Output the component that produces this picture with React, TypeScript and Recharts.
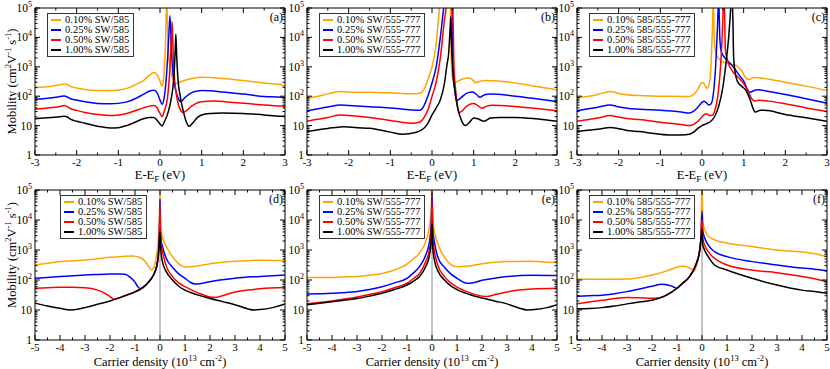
import React from "react";
import { LineChart, Line, XAxis, YAxis, Legend, ReferenceLine } from "recharts";

type Pt = [number, number];

// (a) mobility vs E-EF, SW/585
const aOrange: Pt[] = [[-3,195],[-2.8,205],[-2.6,220],[-2.4,245],[-2.3,262],[-2.25,255],[-2.15,215],[-2.0,190],[-1.8,170],[-1.5,157],[-1.2,155],[-1.0,162],[-0.8,185],[-0.6,240],[-0.4,340],[-0.25,520],[-0.15,640],[-0.08,560],[0.0,330],[0.04,220],[0.07,260],[0.1,700],[0.13,5000],[0.16,200000],[0.19,6000],[0.23,1200],[0.28,500],[0.33,320],[0.38,270],[0.45,290],[0.6,350],[0.8,410],[1.0,440],[1.2,430],[1.5,400],[2.0,340],[2.5,280],[2.8,255],[2.9,250],[2.95,230],[3.0,200]];
const aBlue: Pt[] = [[-3,78],[-2.8,82],[-2.6,88],[-2.4,97],[-2.3,102],[-2.25,98],[-2.15,82],[-2.0,74],[-1.8,65],[-1.5,57],[-1.2,55],[-1.0,57],[-0.8,64],[-0.6,82],[-0.4,115],[-0.25,150],[-0.15,160],[-0.08,140],[0.0,75],[0.05,53],[0.1,90],[0.15,400],[0.19,3000],[0.22,20000],[0.24,55000],[0.27,5000],[0.3,900],[0.35,250],[0.4,120],[0.45,78],[0.48,66],[0.52,68],[0.6,90],[0.75,130],[0.9,150],[1.0,155],[1.2,152],[1.5,140],[2.0,118],[2.5,98],[2.9,92],[3.0,88]];
const aRed: Pt[] = [[-3,36],[-2.8,38],[-2.6,41],[-2.4,45],[-2.3,48],[-2.25,46],[-2.15,38],[-2.0,33],[-1.8,28],[-1.5,24],[-1.2,22],[-1.0,23],[-0.8,26],[-0.6,32],[-0.4,40],[-0.25,46],[-0.15,48],[-0.08,42],[0.0,26],[0.05,20],[0.1,30],[0.18,90],[0.23,600],[0.27,8000],[0.29,35000],[0.31,5000],[0.34,600],[0.38,150],[0.43,60],[0.5,32],[0.55,28],[0.6,30],[0.75,45],[0.9,60],[1.0,65],[1.3,68],[1.6,64],[2.0,58],[2.5,50],[2.9,46],[3.0,45]];
const aBlack: Pt[] = [[-3,17],[-2.8,18],[-2.6,19],[-2.4,20],[-2.3,21],[-2.25,20.5],[-2.15,16.5],[-2.0,14],[-1.8,12],[-1.5,9.5],[-1.2,8.3],[-1.0,8.5],[-0.8,10],[-0.6,13],[-0.4,17],[-0.25,19],[-0.15,19],[-0.05,14],[0.02,10.5],[0.05,9.7],[0.1,13],[0.2,30],[0.28,100],[0.33,400],[0.36,2500],[0.38,13000],[0.4,2500],[0.43,400],[0.48,110],[0.55,35],[0.62,15],[0.7,9.5],[0.78,12],[0.9,19],[1.0,23],[1.2,26],[1.5,27],[2.0,26],[2.5,23],[2.9,21],[3.0,21]];

// (b) mobility vs E-EF, SW/555-777
const bOrange: Pt[] = [[-3,85],[-2.8,95],[-2.5,120],[-2.2,145],[-2.0,140],[-1.5,135],[-1.0,130],[-0.5,120],[-0.3,125],[-0.2,160],[-0.1,360],[0.0,1000],[0.1,6000],[0.18,100000],[0.25,600000],[0.4,600000],[0.44,150000],[0.46,3000],[0.48,600],[0.52,290],[0.55,290],[0.65,340],[0.8,410],[0.9,420],[1.0,330],[1.05,285],[1.12,310],[1.25,340],[1.5,335],[2.0,280],[2.5,215],[3.0,165]];
const bBlue: Pt[] = [[-3,32],[-2.8,36],[-2.5,43],[-2.2,50],[-2.0,48],[-1.5,44],[-1.0,40],[-0.5,34],[-0.3,33],[-0.2,45],[-0.1,100],[0.0,280],[0.1,1000],[0.2,10000],[0.28,100000],[0.35,600000],[0.45,600000],[0.48,100000],[0.5,800],[0.55,150],[0.58,80],[0.6,72],[0.7,90],[0.85,130],[0.98,140],[1.08,110],[1.15,92],[1.25,110],[1.4,118],[2.0,100],[2.5,82],[3.0,66]];
const bRed: Pt[] = [[-3,14],[-2.8,16],[-2.5,19],[-2.2,23],[-2.0,22],[-1.5,19],[-1.0,15],[-0.5,12],[-0.3,13],[-0.2,18],[-0.1,34],[0.0,98],[0.1,300],[0.2,2000],[0.3,40000],[0.34,100000],[0.4,600000],[0.48,600000],[0.5,100000],[0.53,800],[0.57,150],[0.61,50],[0.65,28],[0.7,30],[0.85,48],[1.0,56],[1.1,48],[1.2,39],[1.3,45],[1.45,49],[2.0,45],[2.5,38],[3.0,32]];
const bBlack: Pt[] = [[-3,6.3],[-2.8,7],[-2.5,8],[-2.1,9.2],[-1.8,8.5],[-1.5,8.1],[-1.0,6],[-0.7,5.1],[-0.4,5.8],[-0.2,8],[-0.1,12],[0.0,23],[0.1,40],[0.2,75],[0.3,280],[0.36,1200],[0.4,2900],[0.43,15000],[0.45,50000],[0.47,5000],[0.5,800],[0.55,150],[0.6,50],[0.7,16],[0.8,10],[0.9,13],[1.0,18],[1.1,17],[1.25,14],[1.4,18],[1.6,19],[2.0,19],[2.5,17],[3.0,14]];

// (c) mobility vs E-EF, 585/555-777
const cOrange: Pt[] = [[-3,85],[-2.8,95],[-2.5,115],[-2.2,145],[-2.05,130],[-1.8,112],[-1.5,105],[-1.0,100],[-0.5,98],[-0.3,97],[-0.2,115],[-0.1,170],[-0.02,280],[0.03,290],[0.08,220],[0.13,185],[0.18,300],[0.22,1500],[0.25,20000],[0.27,200000],[0.3,6000],[0.35,2500],[0.45,1600],[0.6,1300],[0.8,1150],[0.95,750],[1.05,420],[1.12,370],[1.25,430],[1.5,400],[2.0,300],[2.5,220],[3.0,155]];
const cBlue: Pt[] = [[-3,32],[-2.8,36],[-2.5,42],[-2.2,50],[-2.05,45],[-1.8,39],[-1.5,36],[-1.0,33],[-0.5,29],[-0.3,27],[-0.2,31],[-0.1,42],[0.0,62],[0.05,67],[0.1,60],[0.17,50],[0.22,55],[0.28,150],[0.33,1200],[0.37,20000],[0.4,200000],[0.43,8000],[0.47,3000],[0.6,1700],[0.75,1000],[0.9,500],[1.0,330],[1.1,160],[1.15,135],[1.22,150],[1.35,165],[1.6,145],[2.0,115],[2.5,82],[3.0,58]];
const cRed: Pt[] = [[-3,14],[-2.8,15.5],[-2.5,18],[-2.2,22],[-2.05,20],[-1.8,17.5],[-1.5,16],[-1.0,13],[-0.5,11],[-0.3,10],[-0.2,11],[-0.1,14],[0.0,20],[0.08,25],[0.12,25],[0.18,22],[0.24,22],[0.3,30],[0.38,100],[0.44,800],[0.48,8000],[0.51,100000],[0.53,300000],[0.56,4000],[0.62,1500],[0.75,650],[0.9,400],[1.0,270],[1.1,150],[1.2,80],[1.27,68],[1.35,73],[1.6,68],[2.0,55],[2.5,40],[3.0,30]];
const cBlack: Pt[] = [[-3,6.3],[-2.8,6.8],[-2.5,7.5],[-2.2,8.6],[-2.05,8.2],[-1.8,6.8],[-1.5,6.3],[-1.2,5.5],[-0.8,4.8],[-0.5,4.8],[-0.3,5.1],[-0.2,6],[-0.1,8],[0.0,10],[0.1,11.5],[0.2,13.5],[0.3,20],[0.4,45],[0.5,200],[0.58,1500],[0.64,10000],[0.68,60000],[0.71,300000],[0.74,50000],[0.76,2000],[0.8,600],[0.85,320],[0.95,220],[1.05,160],[1.15,80],[1.22,40],[1.28,29],[1.4,33],[1.5,33],[2.0,24],[2.5,18.5],[3.0,14]];

// (d) mobility vs carrier density, SW/585
const dOrange: Pt[] = [[-5,316],[-4.5,360],[-4,410],[-3.5,440],[-3,460],[-2.5,510],[-2,570],[-1.5,610],[-1.1,630],[-0.8,560],[-0.6,420],[-0.45,280],[-0.35,215],[-0.25,260],[-0.15,600],[-0.07,2000],[-0.02,15000],[0,80000],[0.02,7000],[0.05,4000],[0.1,2600],[0.2,1600],[0.3,1100],[0.5,600],[0.7,380],[0.85,300],[1.0,270],[1.2,275],[1.5,295],[2.0,350],[2.5,390],[3.0,420],[4.0,455],[5.0,440]];
const dBlue: Pt[] = [[-5,114],[-4.5,122],[-4,130],[-3.5,138],[-3,147],[-2.5,153],[-2,158],[-1.6,160],[-1.4,155],[-1.2,125],[-1.0,85],[-0.9,62],[-0.8,52],[-0.7,55],[-0.5,78],[-0.35,110],[-0.2,190],[-0.1,400],[-0.05,1000],[-0.02,6000],[0,50000],[0.02,4000],[0.05,2000],[0.1,1300],[0.25,530],[0.5,265],[0.75,160],[1.0,114],[1.2,85],[1.4,73],[1.6,75],[2.0,88],[2.5,102],[3.0,115],[4.0,132],[5.0,148]];
const dRed: Pt[] = [[-5,53],[-4.5,55],[-4,57],[-3.5,57],[-3,55],[-2.5,46],[-2.2,36],[-2,28],[-1.85,23],[-1.7,24],[-1.5,28],[-1.0,40],[-0.7,55],[-0.5,78],[-0.35,110],[-0.2,190],[-0.1,400],[-0.05,1000],[-0.02,5000],[0,32000],[0.02,3000],[0.05,1500],[0.1,900],[0.25,290],[0.5,130],[0.75,80],[1.0,60],[1.5,38],[2.0,27],[2.2,26],[2.5,30],[3.0,40],[3.5,46],[4.0,51],[5.0,56]];
const dBlack: Pt[] = [[-5,17],[-4.5,13.5],[-4,11.4],[-3.6,10],[-3.2,11],[-3,12],[-2.5,15.5],[-2,20],[-1.5,28],[-1.0,40],[-0.7,55],[-0.5,78],[-0.35,110],[-0.2,190],[-0.1,400],[-0.05,1000],[-0.02,2500],[0,4000],[0.02,1500],[0.05,700],[0.1,400],[0.25,190],[0.5,100],[0.75,62],[1.0,46],[1.5,32],[2.0,24],[2.5,19],[3.0,15],[3.5,11],[3.75,10],[4.0,10.3],[4.5,12],[5.0,16]];

// (e) mobility vs carrier density, SW/555-777
const eOrange: Pt[] = [[-5,122],[-4,122],[-3,130],[-2.5,145],[-2,165],[-1.5,215],[-1,340],[-0.75,500],[-0.5,780],[-0.25,1900],[-0.1,6000],[-0.03,20000],[0,200000],[0.03,10000],[0.1,4000],[0.25,1460],[0.5,570],[0.75,330],[1.0,275],[1.2,280],[1.5,295],[2.0,350],[2.5,390],[3.0,415],[4.0,420],[4.5,400],[5.0,380]];
const eBlue: Pt[] = [[-5,34],[-4,36],[-3,41],[-2.5,48],[-2,60],[-1.5,80],[-1,114],[-0.75,170],[-0.5,280],[-0.25,680],[-0.1,1900],[-0.03,8000],[0,80000],[0.03,5000],[0.1,1800],[0.25,530],[0.5,265],[0.75,160],[1.0,114],[1.2,90],[1.4,78],[1.6,80],[2.0,98],[2.5,115],[3.0,130],[4.0,145],[5.0,140]];
const eRed: Pt[] = [[-5,16],[-4,20],[-3,27],[-2.5,33],[-2,41],[-1.5,55],[-1,78],[-0.75,110],[-0.5,165],[-0.25,410],[-0.1,1100],[-0.03,4000],[0,45000],[0.03,2500],[0.1,900],[0.25,280],[0.5,130],[0.75,80],[1.0,58],[1.5,38],[2.0,29],[2.2,28],[2.5,32],[3.0,40],[4.0,50],[5.0,53]];
const eBlack: Pt[] = [[-5,15],[-4,19],[-3,24],[-2.5,29],[-2,36],[-1.5,48],[-1,68],[-0.75,90],[-0.5,130],[-0.25,280],[-0.1,680],[-0.03,2000],[0,7500],[0.03,1200],[0.1,450],[0.25,190],[0.5,100],[0.75,64],[1.0,48],[1.5,33],[2.0,25],[2.5,20],[3.0,16],[3.5,11.5],[3.8,10],[4.2,10.5],[4.6,12],[5.0,15]];

// (f) mobility vs carrier density, 585/555-777
const fOrange: Pt[] = [[-5,105],[-4,105],[-3,107],[-2.5,120],[-2,147],[-1.5,190],[-1,265],[-0.8,285],[-0.7,290],[-0.55,265],[-0.4,225],[-0.3,205],[-0.25,250],[-0.15,520],[-0.1,880],[-0.04,2500],[0,150000],[0.03,9000],[0.1,5000],[0.25,2900],[0.5,2200],[1,1700],[2,1300],[3,1000],[4,860],[4.5,750],[5,600]];
const fBlue: Pt[] = [[-5,29],[-4.5,30],[-4,31],[-3.5,35],[-3,41],[-2.5,50],[-2,62],[-1.6,72],[-1.4,70],[-1.2,62],[-1.0,53],[-0.8,75],[-0.5,130],[-0.25,316],[-0.1,880],[-0.04,2500],[0,20000],[0.03,4500],[0.1,2600],[0.25,1460],[0.5,880],[1,600],[2,410],[3,316],[4,250],[4.5,230],[5,205]];
const fRed: Pt[] = [[-5,16],[-4.5,18.5],[-4,21],[-3.5,24],[-3,26],[-2.5,25.5],[-2,24.5],[-1.7,25.5],[-1.5,29],[-1.2,40],[-1.0,53],[-0.8,75],[-0.5,130],[-0.25,316],[-0.1,880],[-0.04,2500],[0,10000],[0.03,2500],[0.1,1500],[0.25,880],[0.5,530],[1,316],[2,215],[3,175],[4,130],[4.5,110],[5,88]];
const fBlack: Pt[] = [[-5,11],[-4.5,11.3],[-4,12],[-3.5,13.5],[-3,16],[-2.5,18.5],[-2,21],[-1.5,29],[-1.2,40],[-1.0,53],[-0.8,75],[-0.5,130],[-0.25,316],[-0.1,880],[-0.04,2500],[0,5000],[0.03,1500],[0.1,1000],[0.25,600],[0.5,316],[1,215],[2,114],[3,68],[4,46],[4.5,41],[5,36]];

const concentrations = ["0.10%", "0.25%", "0.50%", "1.00%"];
const seriesColors = ["#ffa500", "#0000ff", "#ff0000", "#000000"];

const energyTicks = [-3, -2.5, -2, -1.5, -1, -0.5, 0, 0.5, 1, 1.5, 2, 2.5, 3];
const densityTicks = [-5, -4.5, -4, -3.5, -3, -2.5, -2, -1.5, -1, -0.5, 0, 0.5, 1, 1.5, 2, 2.5, 3, 3.5, 4, 4.5, 5];
const mobilityTicks = [
  1, 2, 3, 4, 5, 6, 7, 8, 9,
  10, 20, 30, 40, 50, 60, 70, 80, 90,
  100, 200, 300, 400, 500, 600, 700, 800, 900,
  1000, 2000, 3000, 4000, 5000, 6000, 7000, 8000, 9000,
  10000, 20000, 30000, 40000, 50000, 60000, 70000, 80000, 90000,
  100000,
];

const FONT = '"Liberation Serif", "Times New Roman", Times, serif';
const txt = { fontFamily: FONT };

interface PanelProps {
  left: number;
  top: number;
  height: number;
  topPad: number;
  bottomPad: number;
  curves: Pt[][];
  defect: string;
  letter: string;
  kind: "energy" | "density";
  showYTitle: boolean;
  legendLeft: number;
  yTitleShift: number;
}

const WIDTH = 288;
const PLOT_LEFT = 35;
const PLOT_RIGHT = 285;

function isDecade(v: number) {
  const l = Math.log10(v);
  return Math.abs(l - Math.round(l)) < 1e-9;
}

function Panel(p: PanelProps) {
  const plotTop = p.topPad;
  const plotBottom = p.height - p.bottomPad;
  const xDomain: [number, number] = p.kind === "energy" ? [-3, 3] : [-5, 5];
  const xTicks = p.kind === "energy" ? energyTicks : densityTicks;

  const leftTick = (props: any) => {
    const { y, payload } = props;
    const v = payload.value;
    const major = isDecade(v);
    const e = Math.round(Math.log10(v));
    return (
      <g>
        <line x1={PLOT_LEFT} x2={PLOT_LEFT + (major ? 5 : 2.5)} y1={y} y2={y} stroke="#000" />
        {major && (
          <text x={PLOT_LEFT - 3} y={y + 4} textAnchor="end" fontSize={11.5} style={txt} fill="#000">
            {e === 0 ? "1" : e === 1 ? "10" : (
              <>
                <tspan>10</tspan>
                <tspan dy={-5} fontSize={8}>{e}</tspan>
              </>
            )}
          </text>
        )}
      </g>
    );
  };

  const rightTick = (props: any) => {
    const { y, payload } = props;
    const len = isDecade(payload.value) ? 5 : 2.5;
    return <line x1={PLOT_RIGHT} x2={PLOT_RIGHT - len} y1={y} y2={y} stroke="#000" />;
  };

  const bottomTick = (props: any) => {
    const { x, payload } = props;
    const v = payload.value;
    const major = Number.isInteger(v);
    return (
      <g>
        <line x1={x} x2={x} y1={plotBottom} y2={plotBottom - (major ? 5 : 2.5)} stroke="#000" />
        {major && (
          <text x={x} y={plotBottom + 11} textAnchor="middle" fontSize={11} style={txt} fill="#000">
            {String(v)}
          </text>
        )}
      </g>
    );
  };

  const topTick = (props: any) => {
    const { x, payload } = props;
    const len = Number.isInteger(payload.value) ? 5 : 2.5;
    return <line x1={x} x2={x} y1={plotTop} y2={plotTop + len} stroke="#000" />;
  };

  const xTitle = (props: any) => {
    const vb = props.viewBox;
    const cx = vb.x + vb.width / 2;
    const by = vb.y + (p.kind === "energy" ? 24 : 26);
    return (
      <text x={cx} y={by} textAnchor="middle" fontSize={12.5} style={txt} fill="#000">
        {p.kind === "energy" ? (
          <>
            <tspan>E-E</tspan>
            <tspan dy={3} fontSize={9}>F</tspan>
            <tspan dy={-3}> (eV)</tspan>
          </>
        ) : (
          <>
            <tspan>Carrier density (10</tspan>
            <tspan dy={-5} fontSize={8.5}>13</tspan>
            <tspan dy={5}> cm</tspan>
            <tspan dy={-5} fontSize={8.5}>-2</tspan>
            <tspan dy={5}>)</tspan>
          </>
        )}
      </text>
    );
  };

  const yTitle = (props: any) => {
    const vb = props.viewBox;
    const cx = vb.x + 16;
    const cy = vb.y + vb.height / 2 + p.yTitleShift;
    return (
      <text x={cx} y={cy} transform={`rotate(-90 ${cx} ${cy})`} textAnchor="middle" fontSize={12.5} style={txt} fill="#000">
        <tspan>Mobility (cm</tspan>
        <tspan dy={-5} fontSize={8.5}>2</tspan>
        <tspan dy={5}>V</tspan>
        <tspan dy={-5} fontSize={8.5}>-1</tspan>
        <tspan dy={5}> s</tspan>
        <tspan dy={-5} fontSize={8.5}>-1</tspan>
        <tspan dy={5}>)</tspan>
      </text>
    );
  };

  const letterLabel = (props: any) => {
    const vb = props.viewBox;
    return (
      <text x={vb.x - 2} y={vb.y + 13} textAnchor="end" fontSize={12} style={txt} fill="#000">
        {p.letter}
      </text>
    );
  };

  const renderLegend = (props: any) => {
    const items = props.payload || [];
    return (
      <div
        style={{
          border: "1px solid #333",
          background: "#fff",
          padding: "1px 4px 1px 3px",
          fontFamily: FONT,
          fontSize: 10.5,
          lineHeight: "10px",
          color: "#000",
          whiteSpace: "nowrap",
        }}
      >
        {items.map((it: any) => (
          <div key={it.value} style={{ display: "flex", alignItems: "center", height: 10 }}>
            <span style={{ display: "inline-block", width: 10, height: 2, background: it.color, marginRight: 4 }} />
            <span>{it.value}</span>
          </div>
        ))}
      </div>
    );
  };

  return (
    <div style={{ position: "absolute", left: p.left, top: p.top }}>
      <LineChart width={WIDTH} height={p.height} margin={{ top: 0, right: 0, bottom: 0, left: 0 }}>
        <XAxis
          dataKey="x"
          type="number"
          domain={xDomain}
          ticks={xTicks}
          interval={0}
          allowDataOverflow
          height={p.bottomPad}
          axisLine={{ stroke: "#000" }}
          tickLine={false}
          tick={bottomTick}
          label={xTitle}
        />
        <XAxis
          xAxisId="top"
          orientation="top"
          dataKey="x"
          type="number"
          domain={xDomain}
          ticks={xTicks}
          interval={0}
          allowDataOverflow
          height={p.topPad}
          axisLine={{ stroke: "#000" }}
          tickLine={false}
          tick={topTick}
        />
        <YAxis
          type="number"
          scale="log"
          domain={[1, 100000]}
          ticks={mobilityTicks}
          interval={0}
          allowDataOverflow
          width={PLOT_LEFT}
          axisLine={{ stroke: "#000" }}
          tickLine={false}
          tick={leftTick}
          label={p.showYTitle ? yTitle : undefined}
        />
        <YAxis
          yAxisId="right"
          orientation="right"
          type="number"
          scale="log"
          domain={[1, 100000]}
          ticks={mobilityTicks}
          interval={0}
          allowDataOverflow
          width={WIDTH - PLOT_RIGHT}
          axisLine={{ stroke: "#000" }}
          tickLine={false}
          tick={rightTick}
          label={letterLabel}
        />
        {p.kind === "density" && <ReferenceLine x={0} stroke="#8a8a8a" strokeWidth={1} />}
        {p.curves.map((c, i) => (
          <Line
            key={i}
            data={c.map(([x, y]) => ({ x, y }))}
            dataKey="y"
            name={`${concentrations[i]} ${p.defect}`}
            type="monotone"
            stroke={seriesColors[i]}
            strokeWidth={1.5}
            dot={false}
            activeDot={false}
            isAnimationActive={false}
          />
        ))}
        <Legend
          layout="vertical"
          align="center"
          verticalAlign="middle"
          wrapperStyle={{ position: "absolute", left: p.legendLeft, top: plotTop + 5, width: "auto", height: "auto" }}
          content={renderLegend}
        />
      </LineChart>
    </div>
  );
}

export default function App() {
  return (
    <div style={{ position: "absolute", left: 0, top: 0, width: 830, height: 369, overflow: "hidden", background: "#fff" }}>
      <Panel left={0} top={0} height={185} topPad={8} bottomPad={30} curves={[aOrange, aBlue, aRed, aBlack]} defect="SW/585" letter="(a)" kind="energy" showYTitle legendLeft={47} yTitleShift={0} />
      <Panel left={272} top={0} height={185} topPad={8} bottomPad={30} curves={[bOrange, bBlue, bRed, bBlack]} defect="SW/555-777" letter="(b)" kind="energy" showYTitle={false} legendLeft={47} yTitleShift={0} />
      <Panel left={542} top={0} height={185} topPad={8} bottomPad={30} curves={[cOrange, cBlue, cRed, cBlack]} defect="585/555-777" letter="(c)" kind="energy" showYTitle={false} legendLeft={47} yTitleShift={0} />
      <Panel left={0} top={180} height={189} topPad={10} bottomPad={29} curves={[dOrange, dBlue, dRed, dBlack]} defect="SW/585" letter="(d)" kind="density" showYTitle legendLeft={60} yTitleShift={-10} />
      <Panel left={272} top={180} height={189} topPad={10} bottomPad={29} curves={[eOrange, eBlue, eRed, eBlack]} defect="SW/555-777" letter="(e)" kind="density" showYTitle={false} legendLeft={47} yTitleShift={0} />
      <Panel left={542} top={180} height={189} topPad={10} bottomPad={29} curves={[fOrange, fBlue, fRed, fBlack]} defect="585/555-777" letter="(f)" kind="density" showYTitle={false} legendLeft={47} yTitleShift={0} />
    </div>
  );
}
